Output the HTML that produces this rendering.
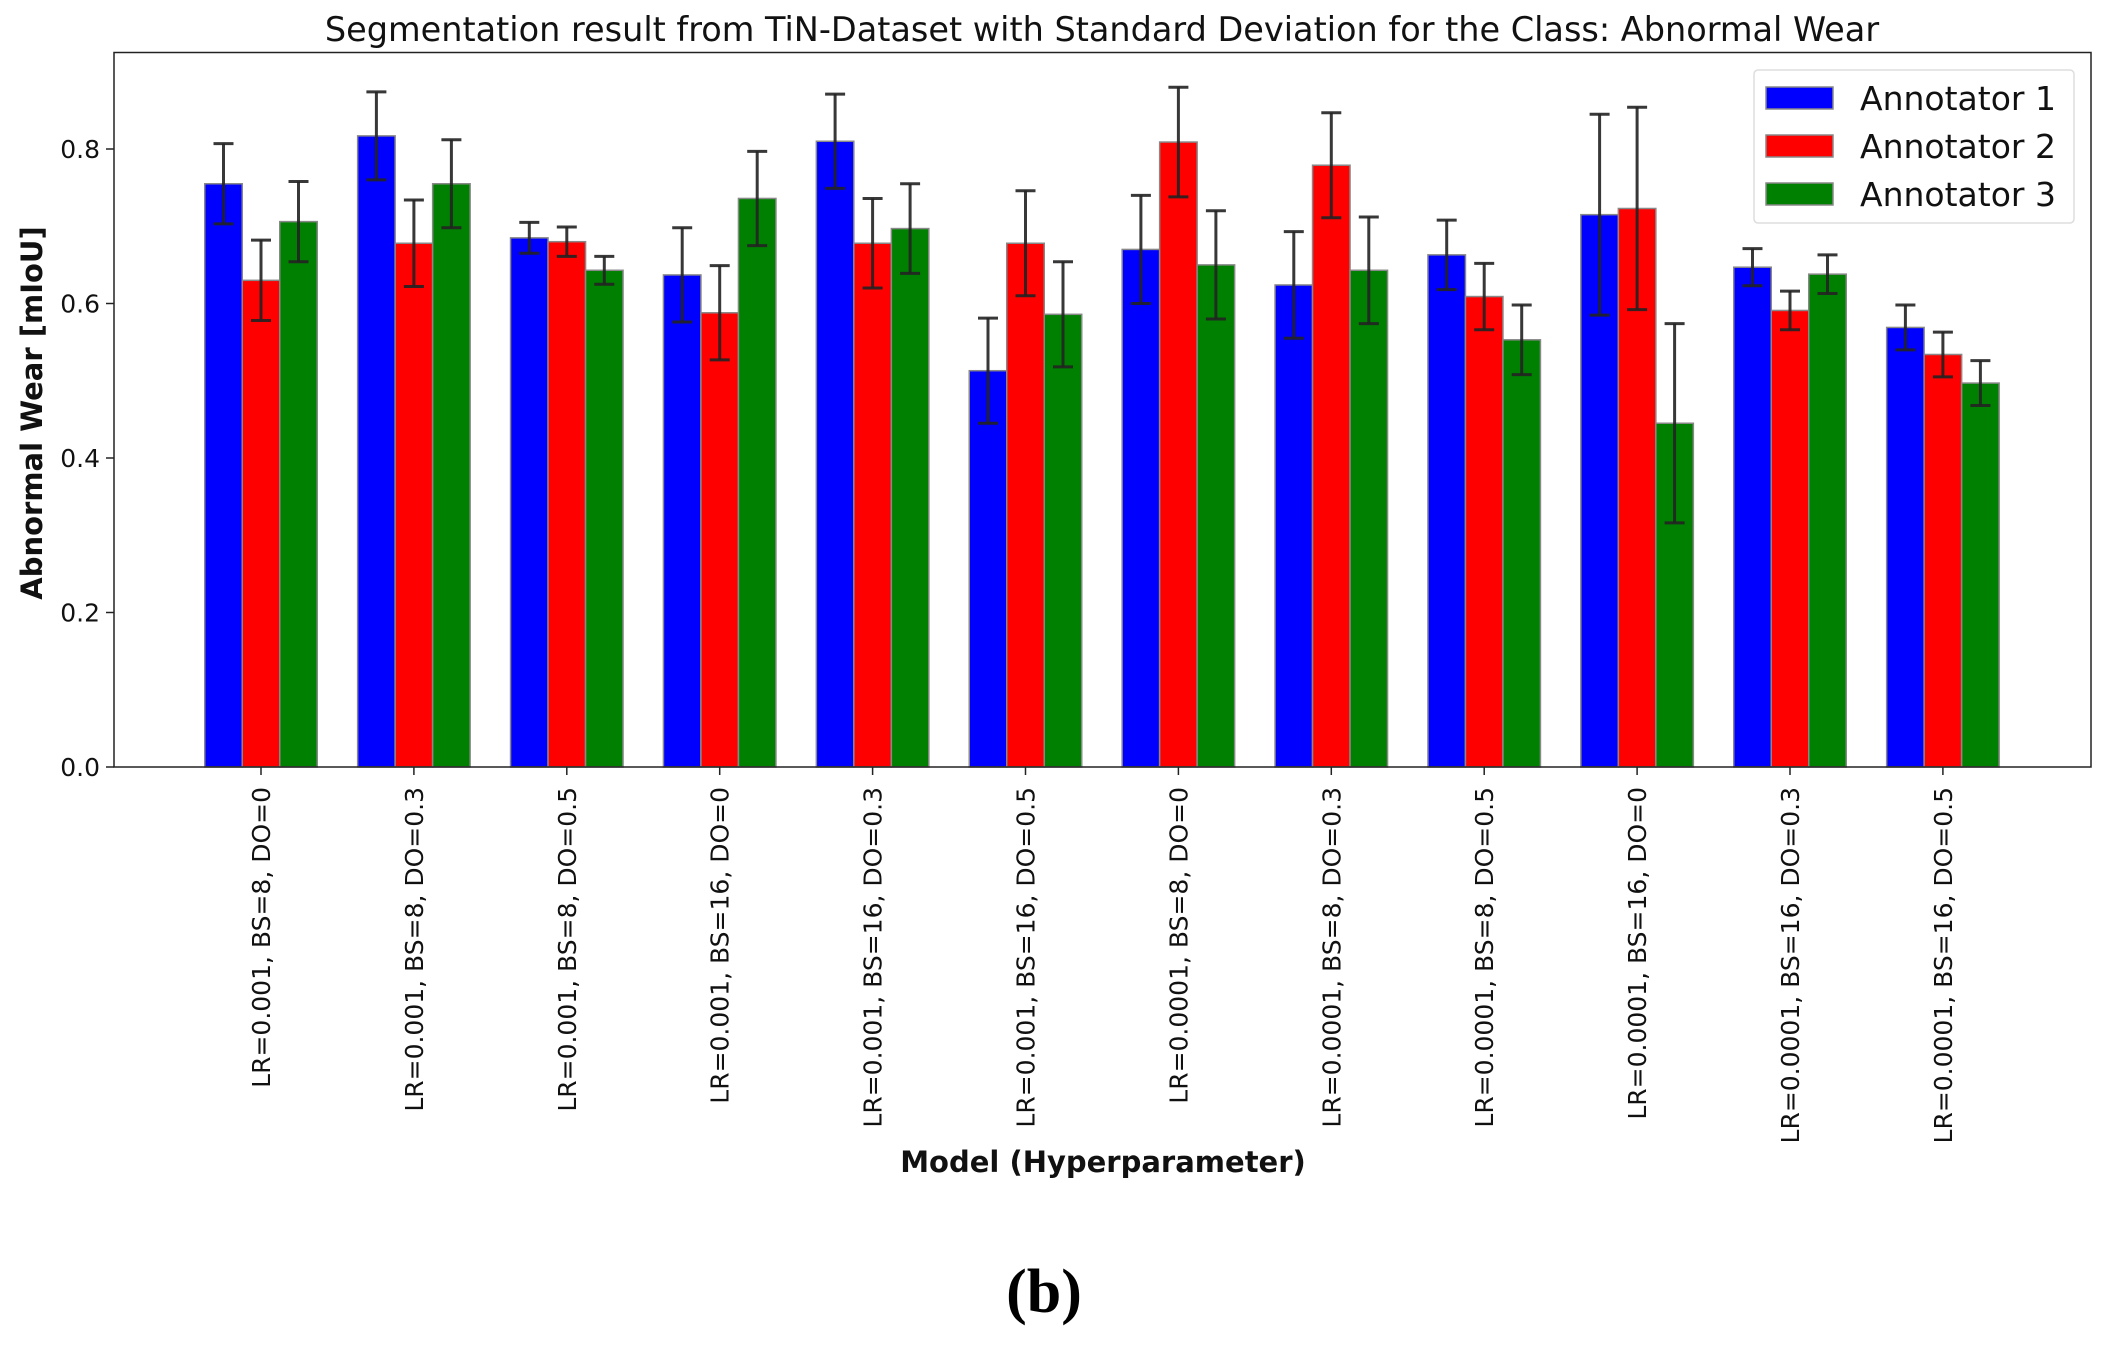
<!DOCTYPE html>
<html><head><meta charset="utf-8"><style>
html,body{margin:0;padding:0;background:#fff;}
svg{display:block;font-family:"DejaVu Sans","Liberation Sans",sans-serif;}
</style></head><body>
<svg id="chart" width="2109" height="1348" viewBox="0 0 2109 1348" xmlns="http://www.w3.org/2000/svg">
<text x="1102" y="41" font-size="33.5" text-anchor="middle" fill="#111">Segmentation result from TiN-Dataset with Standard Deviation for the Class: Abnormal Wear</text>
<g id="bars"></g>
<g id="errs"></g>
<g id="axes"></g>
<text transform="translate(42,413) rotate(-90)" font-size="29" font-weight="bold" text-anchor="middle" fill="#111">Abnormal Wear [mIoU]</text>
<text x="1103" y="1172" font-size="29" font-weight="bold" text-anchor="middle" fill="#111">Model (Hyperparameter)</text>
<text x="1044" y="1312" font-size="62" font-weight="bold" text-anchor="middle" font-family="Liberation Serif, serif" fill="#000">(b)</text>
<g>
<rect x="1754" y="70" width="320" height="153" rx="4" fill="#fff" fill-opacity="0.8" stroke="#ddd" stroke-width="1.5"/>
<g><rect x="1766" y="87" width="67" height="22" fill="#0000ff" stroke="#888" stroke-width="1.5"/><text x="1860" y="110" font-size="33" fill="#111">Annotator 1</text></g>
<g><rect x="1766" y="135" width="67" height="22" fill="#ff0000" stroke="#888" stroke-width="1.5"/><text x="1860" y="158" font-size="33" fill="#111">Annotator 2</text></g>
<g><rect x="1766" y="183" width="67" height="22" fill="#008000" stroke="#888" stroke-width="1.5"/><text x="1860" y="206" font-size="33" fill="#111">Annotator 3</text></g>
</g>
</svg>
<script>
const categories = ["LR=0.001, BS=8, DO=0","LR=0.001, BS=8, DO=0.3","LR=0.001, BS=8, DO=0.5","LR=0.001, BS=16, DO=0","LR=0.001, BS=16, DO=0.3","LR=0.001, BS=16, DO=0.5","LR=0.0001, BS=8, DO=0","LR=0.0001, BS=8, DO=0.3","LR=0.0001, BS=8, DO=0.5","LR=0.0001, BS=16, DO=0","LR=0.0001, BS=16, DO=0.3","LR=0.0001, BS=16, DO=0.5"];
const annotator1 = [0.755,0.817,0.685,0.637,0.810,0.513,0.670,0.624,0.663,0.715,0.647,0.569];
const annotator2 = [0.630,0.678,0.680,0.588,0.678,0.678,0.809,0.779,0.609,0.723,0.591,0.534];
const annotator3 = [0.706,0.755,0.643,0.736,0.697,0.586,0.650,0.643,0.553,0.445,0.638,0.497];
const std1 = [0.052,0.057,0.020,0.061,0.061,0.068,0.070,0.069,0.045,0.130,0.024,0.029];
const std2 = [0.052,0.056,0.019,0.061,0.058,0.068,0.071,0.068,0.043,0.131,0.025,0.029];
const std3 = [0.052,0.057,0.018,0.061,0.058,0.068,0.070,0.069,0.045,0.129,0.025,0.029];
const yTicks = [0.0,0.2,0.4,0.6,0.8];
const yTickLabels = ["0.0","0.2","0.4","0.6","0.8"];

const NS="http://www.w3.org/2000/svg";
const L=114,R=2091,T=52.5,B=767;
const y0px=767, unit=772.5;
function yScale(v){return y0px - v*unit;}
const c0=261, step=152.9;
function xScale(i){return c0 + i*step;}
const bw=37.5;
function mk(tag,attrs,parent){const e=document.createElementNS(NS,tag);for(const k in attrs)e.setAttribute(k,attrs[k]);parent.appendChild(e);return e;}
const bars=document.getElementById('bars'), errs=document.getElementById('errs'), axes=document.getElementById('axes');
const series=[[annotator1,std1,'#0000ff','annotator-1'],[annotator2,std2,'#ff0000','annotator-2'],[annotator3,std3,'#008000','annotator-3']];
series.forEach((s,si)=>{
  s[0].forEach((v,i)=>{
    const cx=xScale(i)+(si-1)*bw;
    const r=mk('rect',{x:cx-bw/2,y:yScale(v),width:bw,height:yScale(0)-yScale(v),fill:s[2],stroke:'#888','stroke-width':1.5},bars);
    
    
    const hi=yScale(v+s[1][i]), lo=yScale(v-s[1][i]);
    const g=mk('g',{stroke:'#222','stroke-width':3,'stroke-opacity':0.9},errs);
    
    
    mk('line',{x1:cx,x2:cx,y1:hi,y2:lo},g);
    mk('line',{x1:cx-10,x2:cx+10,y1:hi,y2:hi},g);
    mk('line',{x1:cx-10,x2:cx+10,y1:lo,y2:lo},g);
  });
});
const frame=mk('rect',{x:L,y:T,width:R-L,height:B-T,fill:'none',stroke:'#222','stroke-width':1.5},axes);


yTicks.forEach((t,i)=>{
  const y=yScale(t);
  mk('line',{x1:L-8,x2:L,y1:y,y2:y,stroke:'#222','stroke-width':1.5},axes);
  const tx=mk('text',{x:L-14,y:y+9,'font-size':25,'text-anchor':'end',fill:'#111'},axes);
  tx.textContent=yTickLabels[i];
  
  
});
categories.forEach((c,i)=>{
  const x=xScale(i);
  mk('line',{x1:x,x2:x,y1:B,y2:B+8,stroke:'#222','stroke-width':1.5},axes);
  const tx=mk('text',{transform:'translate('+(x+9)+','+(B+20)+') rotate(-90)','font-size':25,'text-anchor':'end',fill:'#111'},axes);
  tx.textContent=c;
  
  
});
</script>
</body></html>
